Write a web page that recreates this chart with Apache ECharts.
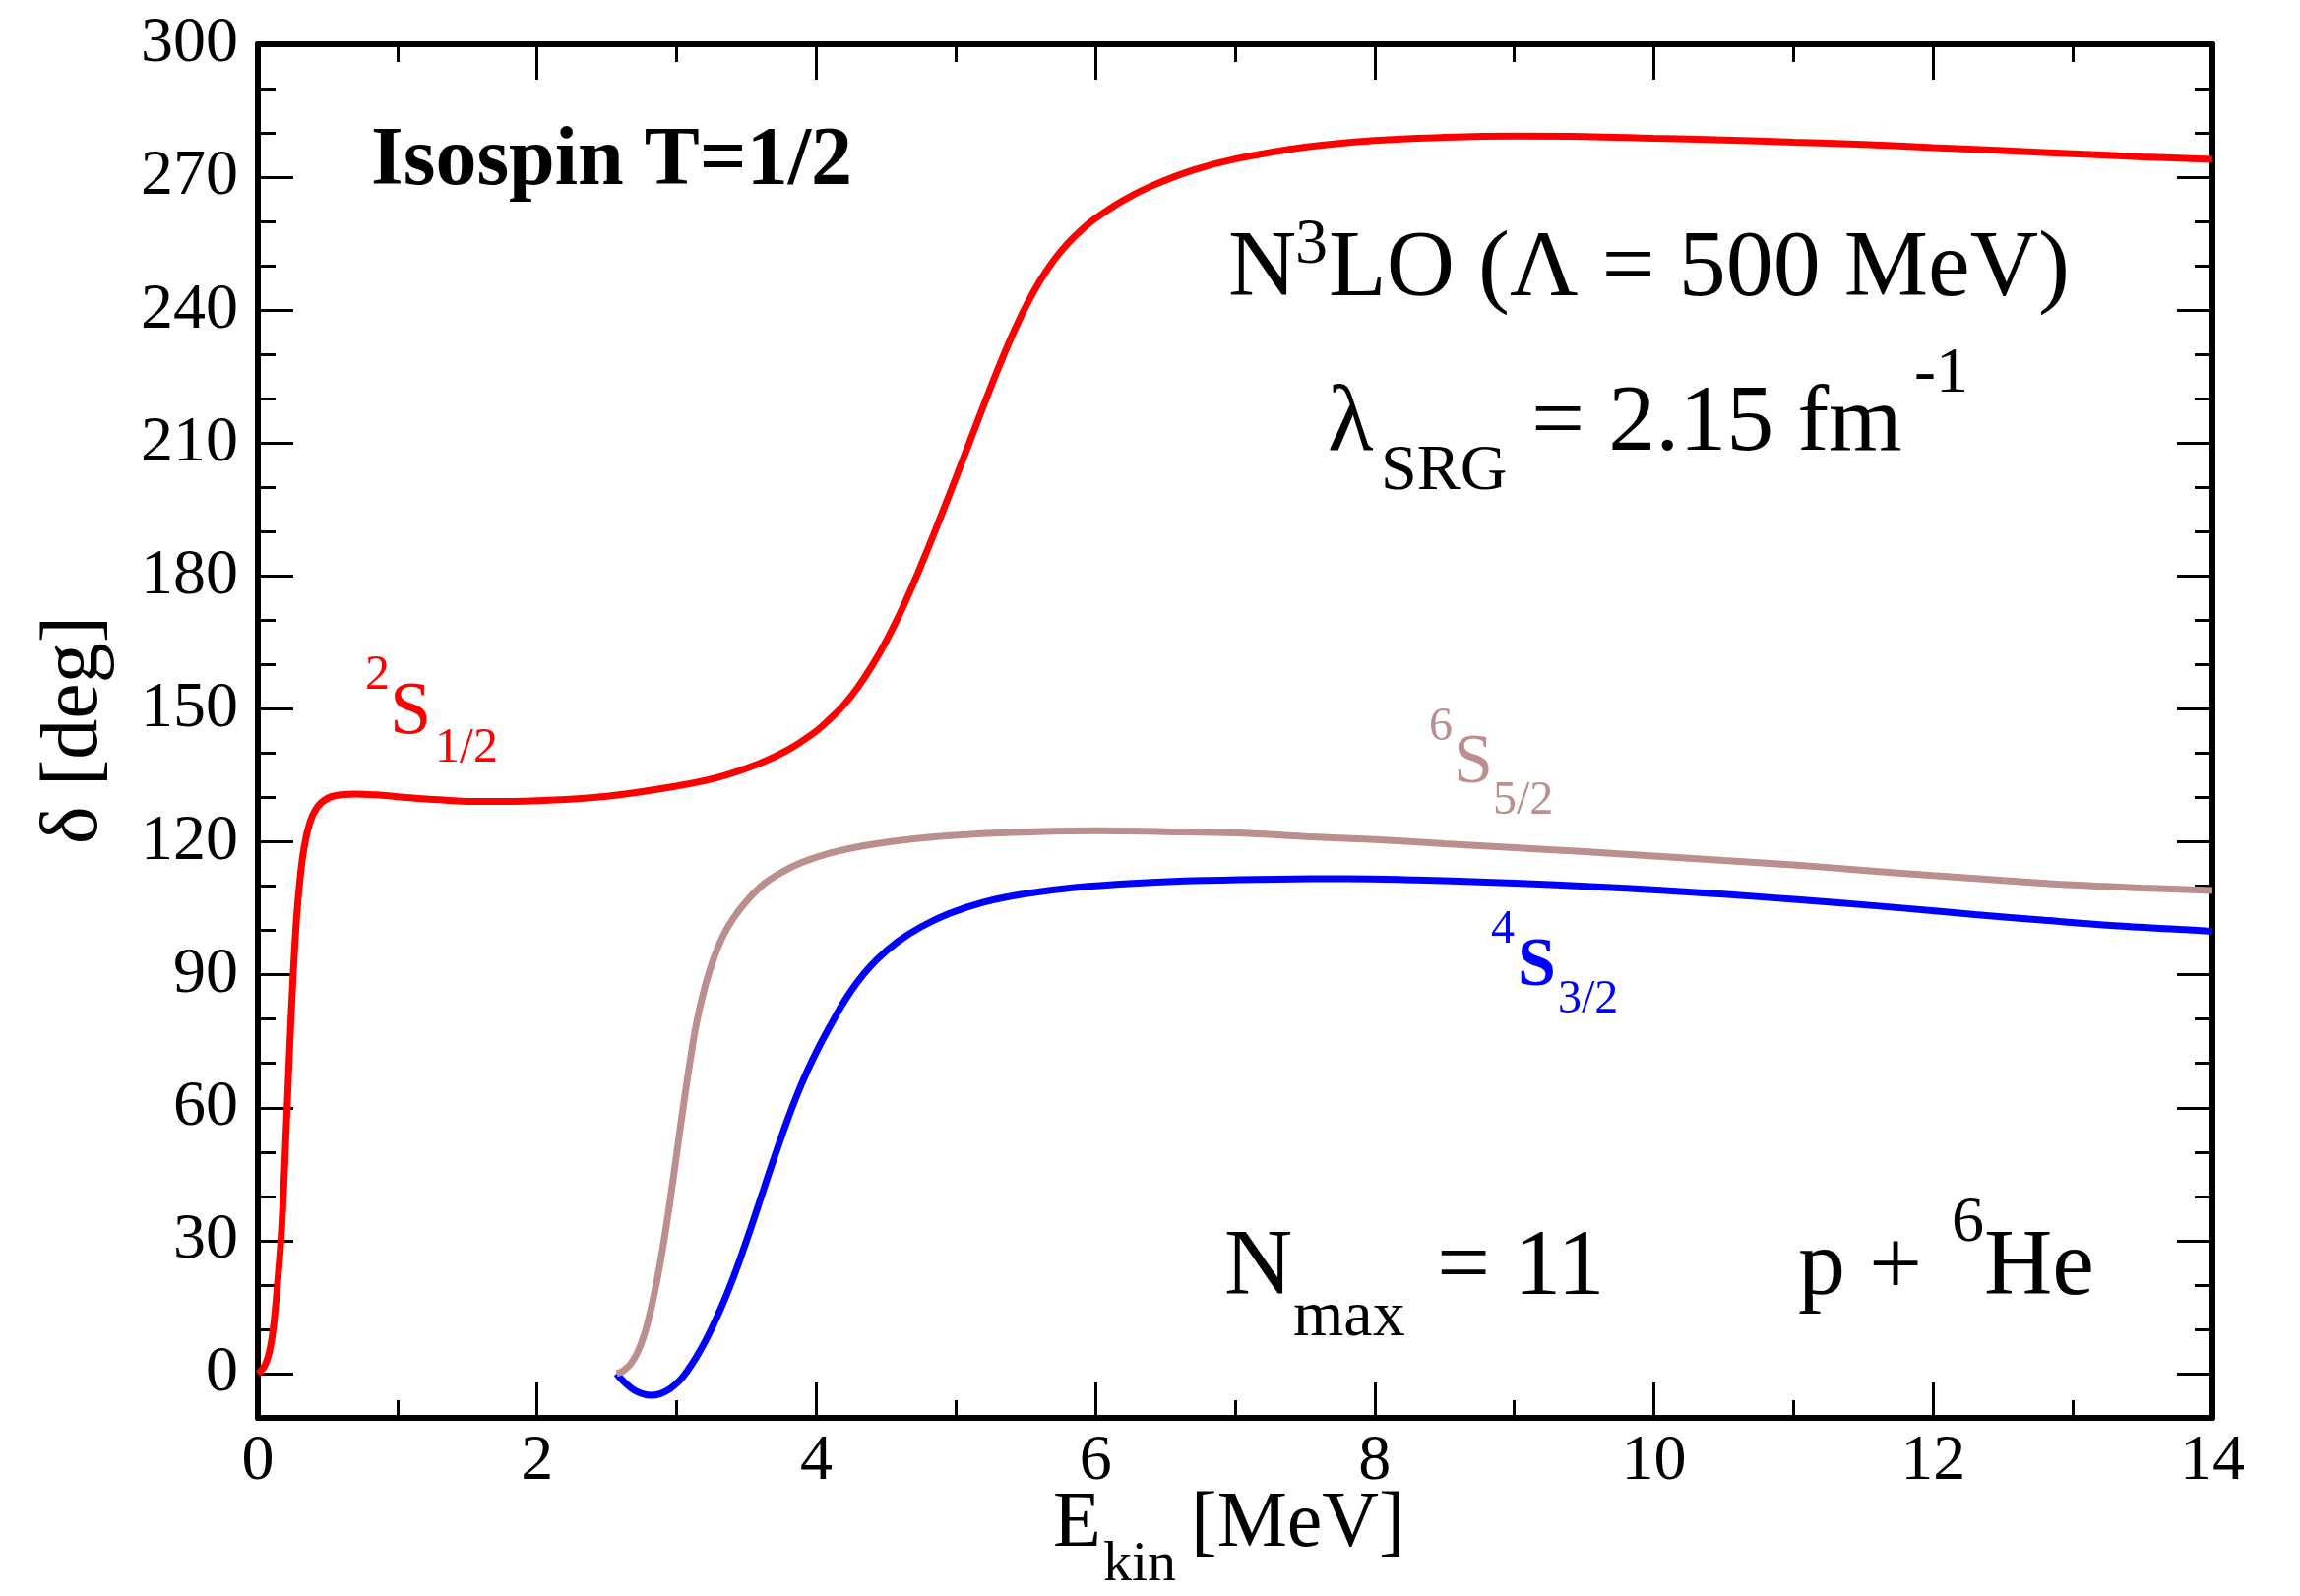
<!DOCTYPE html>
<html>
<head>
<meta charset="utf-8">
<script src="https://cdn.jsdelivr.net/npm/echarts@6/dist/echarts.min.js"></script>
<style>
html,body{margin:0;padding:0;background:#fff;}
#chart{width:2337px;height:1622px;}
</style>
</head>
<body>
<div id="chart"></div>
<script>
// ---- data ----
const E_S12 = [0, 0.05, 0.09, 0.12, 0.145, 0.165, 0.185, 0.2, 0.215, 0.23, 0.245, 0.26, 0.28, 0.3, 0.325, 0.36, 0.4, 0.46, 0.55, 0.7, 0.85, 1.0, 1.3, 1.6, 2.0, 2.5, 3.0, 3.3, 3.6, 3.8, 4.0, 4.1, 4.2, 4.3, 4.4, 4.5, 4.6, 4.7, 4.8, 4.9, 5.0, 5.1, 5.2, 5.3, 5.4, 5.5, 5.6, 5.7, 5.8, 5.9, 6.0, 6.2, 6.4, 6.7, 7.0, 7.5, 8.0, 8.5, 9.0, 9.5, 10.0, 10.5, 11.0, 11.5, 12.0, 12.5, 13.0, 13.5, 14.0];
const D_S12 = [0, 1.8, 6, 13, 22, 30, 42, 53, 64, 75, 85, 94, 104, 111, 117.5, 123, 126.5, 129, 130.4, 130.8, 130.6, 130.2, 129.5, 129.1, 129.3, 130.3, 132.6, 134.6, 137.8, 140.8, 145, 147.8, 151, 155, 159.8, 165.3, 171.6, 178.6, 186.2, 194.1, 202.2, 210.4, 218.6, 226.6, 234.1, 240.8, 246.5, 251.2, 255, 258.1, 260.7, 264.8, 268, 271.6, 274.1, 276.8, 278.3, 279, 279.3, 279.2, 278.8, 278.4, 277.9, 277.4, 276.7, 276, 275.3, 274.6, 274];

const E_S52 = [2.57, 2.62, 2.67, 2.72, 2.77, 2.81, 2.85, 2.88, 2.91, 2.94, 2.97, 3.0, 3.03, 3.06, 3.1, 3.14, 3.19, 3.25, 3.32, 3.4, 3.5, 3.62, 3.75, 3.9, 4.1, 4.35, 4.7, 5.1, 5.5, 6.0, 6.5, 7.0, 7.5, 8.0, 8.5, 9.0, 9.5, 10.0, 10.5, 11.0, 11.5, 12.0, 12.5, 13.0, 13.5, 14.0];
const D_S52 = [0, 0.7, 2.2, 4.8, 9, 13.8, 19.6, 24.6, 30.2, 36.3, 42.8, 49.6, 56.4, 63, 71.3, 78.8, 85.8, 92.3, 98, 102.5, 106.6, 110.4, 113.1, 115.4, 117.5, 119.2, 120.7, 121.7, 122.2, 122.5, 122.3, 122, 121.2, 120.5, 119.6, 118.7, 117.8, 116.8, 115.8, 114.8, 113.6, 112.4, 111.3, 110.3, 109.6, 109];

const E_S32 = [2.57, 2.62, 2.68, 2.74, 2.81, 2.88, 2.95, 3.02, 3.08, 3.14, 3.2, 3.26, 3.32, 3.38, 3.44, 3.5, 3.56, 3.62, 3.68, 3.74, 3.8, 3.87, 3.94, 4.02, 4.1, 4.2, 4.3, 4.43, 4.58, 4.75, 4.95, 5.2, 5.5, 5.85, 6.3, 6.8, 7.3, 7.8, 8.3, 8.8, 9.3, 9.8, 10.3, 10.8, 11.3, 11.8, 12.3, 12.8, 13.3, 13.8, 14.0];
const D_S32 = [0, -1.8, -3.4, -4.4, -4.9, -4.6, -3.5, -1.6, 0.8, 3.7, 7, 10.8, 15, 19.6, 24.6, 30, 35.6, 41.3, 47, 52.5, 57.8, 63.5, 68.6, 73.8, 78.5, 84, 88.6, 93.3, 97.4, 100.8, 103.8, 106.4, 108.3, 109.7, 110.7, 111.3, 111.6, 111.7, 111.4, 110.9, 110.3, 109.5, 108.6, 107.5, 106.3, 105, 103.6, 102.3, 101.1, 100.2, 99.8];

const Y_MAJOR = [0, 30, 60, 90, 120, 150, 180, 210, 240, 270, 300];
const Y_MINOR = [10, 20, 40, 50, 70, 80, 100, 110, 130, 140, 160, 170, 190, 200, 220, 230, 250, 260, 280, 290];

// ---- styles ----
const SERIF = '"Liberation Serif", "Times New Roman", serif';
const C_RED = '#ff0000', C_BLUE = '#0000ff', C_BROWN = '#bc8f8f';

function pairs(xs, ys) { return xs.map((x, i) => [x, ys[i]]); }

function txt(s, x, base, size, color, weight) {
  return {
    type: 'text', x: x, y: base - 0.34 * size, z: 100,
    style: { text: s, fontSize: size, fontFamily: SERIF, fontWeight: weight || 'normal',
             fill: color || '#000', align: 'left', verticalAlign: 'middle' }
  };
}

const chart = echarts.init(document.getElementById('chart'), null, { renderer: 'canvas' });

const axisLineStyle = { color: '#000', width: 6 };
const tickStyle = { color: '#000', width: 3 };

function xAxisDef(pos, labels) {
  return {
    type: 'value', position: pos, min: 0, max: 14, interval: 2,
    axisLine: { show: true, onZero: false, lineStyle: axisLineStyle },
    axisTick: { show: true, inside: true, length: 36, lineStyle: tickStyle },
    minorTick: { show: true, splitNumber: 2, length: 18, lineStyle: tickStyle },
    splitLine: { show: false }, minorSplitLine: { show: false },
    axisLabel: { show: labels, margin: 12, fontSize: 66, fontFamily: SERIF, color: '#000',
                 showMinLabel: true, showMaxLabel: true }
  };
}
function yAxisDef(pos, vals, len, labels, line) {
  return {
    type: 'value', position: pos, min: -10, max: 300, interval: 10,
    axisLine: { show: line, onZero: false, lineStyle: axisLineStyle },
    axisTick: { show: true, inside: true, length: len, lineStyle: tickStyle, customValues: vals },
    splitLine: { show: false },
    axisLabel: { show: labels, margin: 20, fontSize: 66, fontFamily: SERIF, color: '#000',
                 customValues: Y_MAJOR }
  };
}

const graphics = [
  txt('Isospin T=1/2', 377, 194, 84, '#000', 'bold'),
  // N^3LO (Λ = 500 MeV)
  txt('N', 1248, 307, 96),
  txt('3', 1316, 272, 66),
  txt('LO (Λ = 500 MeV)', 1350, 307, 96),
  // λ_SRG = 2.15 fm^-1
  txt('λ', 1349, 464, 96),
  txt('SRG', 1403, 502, 66),
  txt('= 2.15 fm', 1556, 464, 96),
  txt('-1', 1945, 403, 66),
  // N_max = 11
  txt('N', 1244, 1322, 96),
  txt('max', 1314, 1362, 66),
  txt('= 11', 1460, 1322, 96),
  // p + 6He
  txt('p + ', 1827, 1322, 96),
  txt('6', 1983, 1266, 66),
  txt('He', 2016, 1322, 96),
  // 2S1/2
  txt('2', 371, 704, 50, C_RED),
  txt('S', 396, 751, 76, C_RED),
  txt('1/2', 442, 778, 50, C_RED),
  // 6S5/2
  txt('6', 1452, 756, 48, C_BROWN),
  txt('S', 1477, 801, 72, C_BROWN),
  txt('5/2', 1517, 831, 48, C_BROWN),
  // 4S3/2
  txt('4', 1515, 962, 48, C_BLUE),
  txt('S', 1542, 1007, 70, C_BLUE, 'bold'),
  txt('3/2', 1583, 1033, 48, C_BLUE),
  // x axis title
  txt('E', 1070, 1577, 80),
  txt('kin', 1121, 1610, 58),
  txt('[MeV]', 1210, 1577, 80),
  // y axis title
  { type: 'text', x: 76, y: 742, rotation: Math.PI / 2, z: 100,
    style: { text: 'δ [deg]', fontSize: 82, fontFamily: SERIF, fill: '#000',
             align: 'center', verticalAlign: 'middle' } }
];

chart.setOption({
  animation: false,
  backgroundColor: '#fff',
  grid: { left: 262, right: 89, top: 45, bottom: 181, containLabel: false },
  xAxis: [xAxisDef('bottom', true), xAxisDef('top', false)],
  yAxis: [
    yAxisDef('left', Y_MAJOR, 36, true, true),
    yAxisDef('left', Y_MINOR, 18, false, false),
    yAxisDef('right', Y_MAJOR, 36, false, true),
    yAxisDef('right', Y_MINOR, 18, false, false)
  ],
  series: [
    { type: 'line', name: '4S3/2', data: pairs(E_S32, D_S32), showSymbol: false, smooth: 0.4,
      lineStyle: { color: C_BLUE, width: 7 }, itemStyle: { color: C_BLUE } },
    { type: 'line', name: '6S5/2', data: pairs(E_S52, D_S52), showSymbol: false, smooth: 0.4,
      lineStyle: { color: C_BROWN, width: 7 }, itemStyle: { color: C_BROWN } },
    { type: 'line', name: '2S1/2', data: pairs(E_S12, D_S12), showSymbol: false, smooth: 0.4,
      lineStyle: { color: C_RED, width: 7 }, itemStyle: { color: C_RED } }
  ],
  graphic: graphics
});
</script>
</body>
</html>
